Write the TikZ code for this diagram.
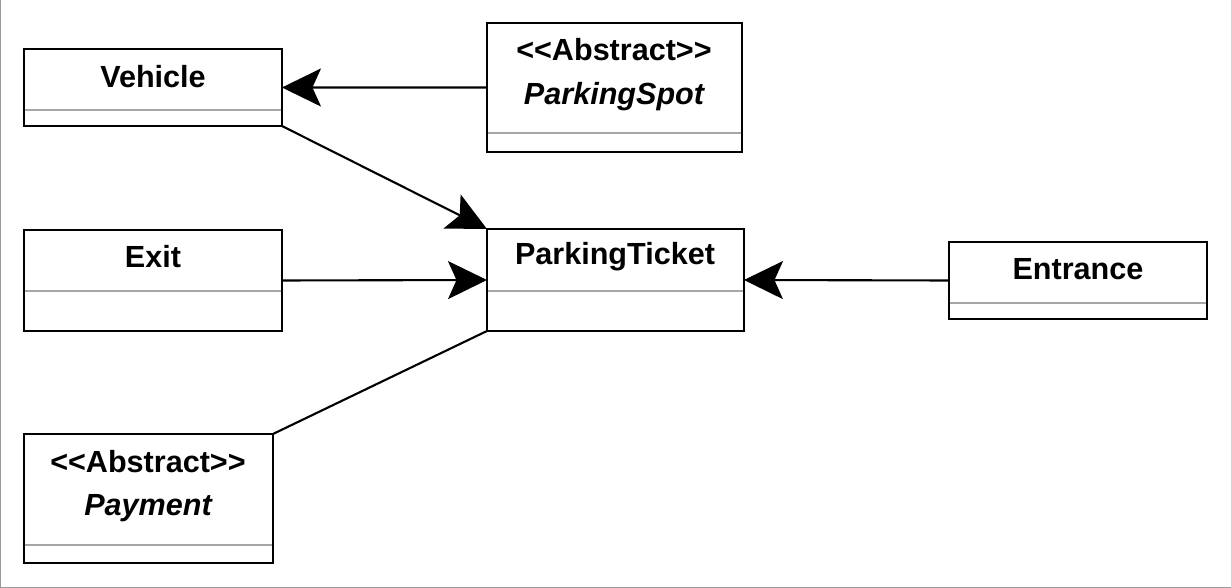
\documentclass[tikz,border=0pt]{standalone}
\usepackage{fontspec}
\setmainfont{Liberation Sans}
\usetikzlibrary{arrows.meta}

\begin{document}
\begin{tikzpicture}
[x=0.02cm, y=-0.02cm,
 cls/.style={draw, line width=1.5pt, inner sep=0pt, outer sep=0pt, anchor=north west,
   path picture={\draw[gray!70, line width=1.4pt]
     ([yshift=#1]path picture bounding box.south west) --
     ([yshift=#1]path picture bounding box.south east);}},
 title/.style={font=\fontsize{17.4}{20}\selectfont\bfseries},
 abstr/.style={font=\fontsize{17.4}{20}\selectfont\bfseries\itshape},
 link/.style={line width=1.2pt, -{Stealth[length=0.78cm, width=0.76cm, inset=0.17cm]}}]
\useasboundingbox (0,0) rectangle (1231,588);
\draw[gray!80, line width=0.8pt] (0.5,0) -- (0.5,587.3) -- (1231,587.3);

% classes
\node[cls=0.32cm, minimum width=5.16cm, minimum height=1.54cm] (vehicle) at (24,49) {};
\node[title] (vehicle-name) at (153,77) {Vehicle};

\node[cls=0.38cm, minimum width=5.1cm, minimum height=2.58cm] (spot) at (487,23) {};
\node[title] (spot-stereo) at (614,50) {<{}<Abstract>{}>};
\node[abstr] (spot-name) at (614,97) {ParkingSpot};

\node[cls=0.8cm, minimum width=5.16cm, minimum height=2.02cm] (exit) at (24,230) {};
\node[title] (exit-name) at (153,257) {Exit};

\node[cls=0.8cm, minimum width=5.14cm, minimum height=2.04cm] (ticket) at (487,229) {};
\node[title] (ticket-name) at (615,257) {ParkingTicket};

\node[cls=0.32cm, minimum width=5.16cm, minimum height=1.54cm] (entrance) at (949,242) {};
\node[title] (entrance-name) at (1078,269) {Entrance};

\node[cls=0.36cm, minimum width=4.98cm, minimum height=2.58cm] (payment) at (24,434) {};
\node[title] (payment-stereo) at (148,462) {<{}<Abstract>{}>};
\node[abstr] (payment-name) at (148,508) {Payment};

% associations
\draw[link] (spot.west) -- (vehicle.east);
\draw[link] (vehicle.south east) -- (ticket.north west);
\draw[link] (exit.east) -- (ticket.west);
\draw[link] (entrance.west) -- (ticket.east);
\draw[line width=1.2pt] (ticket.south west) -- (payment.north east);
\end{tikzpicture}
\end{document}
